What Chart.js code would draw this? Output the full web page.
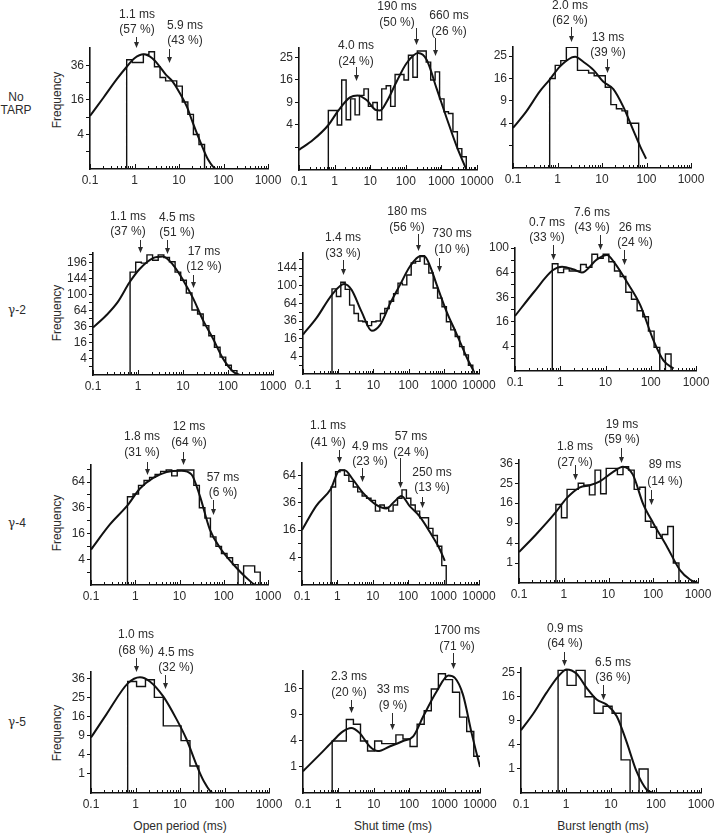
<!DOCTYPE html>
<html>
<head>
<meta charset="utf-8">
<title>Open period, shut time and burst length histograms</title>
<script src="https://cdn.jsdelivr.net/npm/chart.js@4.4.1/dist/chart.umd.min.js"></script>
<style>
  body { margin: 0; background: #fff; }
  #sheet { position: relative; width: 720px; height: 833px; overflow: hidden;
           font-family: "Liberation Sans", Arial, sans-serif; color: #2b2b2b; }
  #sheet canvas { position: absolute; }
  .lbl { position: absolute; font-size: 12px; line-height: 13px; text-align: center;
         white-space: nowrap; transform: translate(-50%, -50%); }
  .freq { transform: translate(-50%, -50%) rotate(-90deg); }
  .g { font-family: "DejaVu Serif", serif; font-size: 12px; }
</style>
</head>
<body>
<div id="sheet">
  <div class="lbl" style="left:16px;top:104px">No<br>TARP</div>
  <div class="lbl" style="left:17px;top:310px"><span class="g">γ</span>-2</div>
  <div class="lbl" style="left:17px;top:523px"><span class="g">γ</span>-4</div>
  <div class="lbl" style="left:17px;top:722px"><span class="g">γ</span>-5</div>
  <div class="lbl freq" style="left:57px;top:100px">Frequency</div>
  <div class="lbl freq" style="left:57px;top:313px">Frequency</div>
  <div class="lbl freq" style="left:57px;top:523px">Frequency</div>
  <div class="lbl freq" style="left:57px;top:733px">Frequency</div>
  <div class="lbl" style="left:180px;top:826px">Open period (ms)</div>
  <div class="lbl" style="left:393px;top:826px">Shut time (ms)</div>
  <div class="lbl" style="left:603px;top:826px">Burst length (ms)</div>
</div>
<script>
// bin edges (ms) of the log-binned histograms
const binEdges8 = [0.667, 0.889, 1.186, 1.581, 2.109, 2.812, 3.75, 5.0, 6.67, 8.89, 11.86, 15.81,
  21.09, 28.12, 37.5, 50, 66.7, 88.9, 118.6, 158.1, 210.9, 281.2, 375, 500, 667, 889, 1186,
  1581, 2109, 2812, 3750, 5000, 6667, 8889];
const binEdges5 = [0.667, 1.057, 1.675, 2.655, 4.21, 6.67, 10.57, 16.75, 26.55, 42.1, 66.7,
  105.7, 167.5, 265.5, 421, 667, 1057, 1675, 2655, 4210, 6670, 10570];

// x tick labels
const xDecades3 = [0.1, 1, 10, 100, 1000];
const xDecades4 = [0.1, 1, 10, 100, 1000, 10000];

// y ticks (square-root axis) and the ones that carry a label
const yTicks36 = [1, 4, 9, 16, 25, 36];
const yLabels36even = [4, 16, 36];
const yLabels36 = [1, 4, 9, 16, 25, 36];
const yTicks25 = [1, 4, 9, 16, 25];
const yLabels25 = [4, 9, 16, 25];
const yLabels25all = [1, 4, 9, 16, 25];
const yTicks16 = [1, 4, 9, 16];
const yTicks225 = [1, 4, 9, 16, 25, 36, 49, 64, 81, 100, 121, 144, 169, 196, 225];
const yLabels196 = [4, 16, 36, 64, 100, 144, 196];
const yTicks169 = [1, 4, 9, 16, 25, 36, 49, 64, 81, 100, 121, 144, 169];
const yLabels144 = [4, 16, 36, 64, 100, 144];
const yTicks100 = [1, 4, 9, 16, 25, 36, 49, 64, 81, 100];
const yLabels100 = [4, 16, 36, 64, 100];
const yTicks81 = [1, 4, 9, 16, 25, 36, 49, 64, 81];
const yTicks64 = [1, 4, 9, 16, 25, 36, 49, 64];
const yLabels64 = [4, 16, 36, 64];

// ---- No TARP ----
const noTarpOpenCounts = [40, 38, 38, 44, 46, 35, 28, 26, 26, 23, 15, 10, 4, 2];
const noTarpOpenFitX = [0.1, 0.2, 0.4, 0.67, 1.0, 1.6, 2.5, 3.5, 5, 7, 10, 15, 20, 30, 45, 70, 100];
const noTarpOpenFitY = [9.4, 17, 27, 35, 41, 44, 41, 36, 30, 26, 20, 13, 7.5, 2.5, 0.3, 0, 0];
const noTarpOpenTau = [1.1, 5.9];
const noTarpOpenNotes = [['1.1 ms', '(57 %)'], ['5.9 ms', '(43 %)']];

const noTarpShutCounts = [7, 7, 4, 16, 5, 10, 6, 11, 13, 8, 9, 5, 13, 14, 8, 18, 18, 16, 26, 17,
  28, 28, 23, 16, 19, 10, 6.7, 6.3, 2.9, 0.9, 0.35];
const noTarpShutFitX = [0.1, 0.25, 0.67, 1.3, 2.7, 4.4, 7.9, 14.5, 19, 29, 55, 105, 223, 385, 740, 1410, 2690, 5100];
const noTarpShutFitY = [0.8, 1.8, 4, 7.1, 10.4, 11, 9.7, 7.1, 7, 9.2, 15.4, 22.5, 27, 24, 13, 5.3, 1.1, 0];
const noTarpShutTau = [4.0, 190, 660];
const noTarpShutNotes = [['4.0 ms', '(24 %)'], ['190 ms', '(50 %)'], ['660 ms', '(26 %)']];

const noTarpBurstCounts = [16, 21, 23, 29, 29, 19, 19, 18, 17, 17, 13, 8, 7, 6.5, 4, 4];
const noTarpBurstFitX = [0.1, 0.2, 0.4, 0.66, 1.13, 2.1, 2.5, 3.8, 6.4, 10.6, 18, 30, 50, 72, 98];
const noTarpBurstFitY = [3.2, 6.4, 11.7, 15.5, 20.5, 24.4, 24.7, 22.5, 19.2, 14.9, 12.4, 7.5, 2.9, 0.94, 0.17];
const noTarpBurstTau = [2.0, 13];
const noTarpBurstNotes = [['2.0 ms', '(62 %)'], ['13 ms', '(39 %)']];

// ---- gamma-2 ----
const g2OpenCounts = [165, 198, 195, 225, 205, 225, 215, 200, 165, 140, 105, 66, 58, 38, 24, 12, 5, 1.5, 0.3];
const g2OpenFitX = [0.1, 0.2, 0.36, 0.65, 1.1, 2.16, 3.6, 6, 10, 16.7, 27.8, 46, 77, 129, 180];
const g2OpenFitY = [35, 56, 84, 134, 176, 213, 219, 189, 141, 92, 47, 21, 4.3, 0.2, 0];
const g2OpenTau = [1.1, 4.5, 17];
const g2OpenNotes = [['1.1 ms', '(37 %)'], ['4.5 ms', '(51 %)'], ['17 ms', '(12 %)']];

const g2ShutCounts = [93, 77, 108, 92, 61, 47, 36, 35, 30, 35, 36, 47, 55, 68, 83, 106, 102, 126,
  158, 163, 180, 155, 131, 95, 74, 58, 35, 25, 18, 9.6, 4.7, 1];
const g2ShutFitX = [0.1, 0.24, 0.67, 1.47, 2.4, 4.6, 9, 15.5, 30, 57, 110, 215, 280, 410, 630, 1200, 2350, 4600, 7100];
const g2ShutFitY = [20, 40, 81, 104, 91, 50, 24, 31, 64, 102, 149, 178, 178, 149, 102, 50, 20, 3.2, 0.1];
const g2ShutTau = [1.4, 180, 730];
const g2ShutNotes = [['1.4 ms', '(33 %)'], ['180 ms', '(56 %)'], ['730 ms', '(10 %)']];

const g2BurstCounts = [76, 64, 69, 66, 66, 75, 71, 90, 84, 90, 79, 66, 59, 41, 34, 24, 19.5, 10.5, 3.7, 0, 1.9];
const g2BurstFitX = [0.1, 0.26, 0.68, 1.1, 2.0, 3.0, 6.4, 10.7, 16, 30, 59, 116, 190, 320];
const g2BurstFitY = [20, 41, 67, 72, 68, 64, 82, 89, 77, 52, 28.5, 6, 0.75, 0.04];
const g2BurstTau = [0.7, 7.6, 26];
const g2BurstNotes = [['0.7 ms', '(33 %)'], ['7.6 ms', '(43 %)'], ['26 ms', '(24 %)']];

// ---- gamma-4 ----
const g4OpenCounts = [47, 50, 60, 66, 70, 74, 78, 80, 72, 80, 80, 80, 60, 36, 27, 14, 9, 6, 4.5, 2.5, 0, 2.2, 2.2, 1];
const g4OpenFitX = [0.1, 0.265, 0.69, 1.26, 2.5, 5.1, 11.1, 18.6, 28.8, 48.6, 82, 164, 329, 553, 1000];
const g4OpenFitY = [7.6, 22, 39, 56, 69, 77, 79, 74, 48, 18.6, 8.4, 2.6, 0.3, 0, 0];
const g4OpenTau = [1.8, 12, 57];
const g4OpenNotes = [['1.8 ms', '(31 %)'], ['12 ms', '(64 %)'], ['57 ms', '(6 %)']];

const g4ShutCounts = [51, 68, 70, 64, 57, 51, 46, 42, 40, 38, 29, 34, 32, 29, 34, 40, 48, 40, 34, 29, 24, 24, 17, 13, 8, 2];
const g4ShutFitX = [0.1, 0.25, 0.65, 1.16, 1.6, 2.75, 5.3, 12.6, 24, 41, 64, 110, 210, 405, 780, 1080];
const g4ShutFitY = [16, 33, 49, 70, 70, 59, 45, 34, 31, 37, 42, 33, 25, 15, 6.8, 3.1];
const g4ShutTau = [1.1, 4.9, 57, 250];
const g4ShutNotes = [['1.1 ms', '(41 %)'], ['4.9 ms', '(23 %)'], ['57 ms', '(24 %)'], ['250 ms', '(13 %)']];

const g4BurstCounts = [15.5, 10.7, 22, 22, 25, 24, 19.5, 32, 20, 33, 33, 29.5, 34, 32, 22, 23, 9.6, 7.8, 5, 5.9, 8, 1];
const g4BurstFitX = [0.1, 0.24, 0.65, 1.15, 2.3, 3.8, 6.4, 12.7, 21, 35, 60, 100, 200, 400, 660, 1000];
const g4BurstFitY = [2.4, 5.9, 12.4, 18, 23, 24, 26, 31, 34, 29.5, 15.5, 9, 3.4, 0.4, 0.03, 0];
const g4BurstTau = [1.8, 19, 89];
const g4BurstNotes = [['1.8 ms', '(27 %)'], ['19 ms', '(59 %)'], ['89 ms', '(14 %)']];

// ---- gamma-5 ----
const g5OpenCounts = [34, 31, 35, 25, 12.3, 12.3, 7.5, 2];
const g5OpenFitX = [0.1, 0.22, 0.68, 1.26, 2.1, 4.2, 8.4, 14, 24, 33.6, 56, 110];
const g5OpenFitY = [8.4, 16.8, 33, 36.6, 34, 25.5, 14.8, 7.9, 2, 0.43, 0, 0];
const g5OpenTau = [1.0, 4.5];
const g5OpenNotes = [['1.0 ms', '(68 %)'], ['4.5 ms', '(32 %)']];

const g5ShutCounts = [4, 4, 8, 7, 4, 2.6, 4, 3.6, 3.6, 5, 4.3, 3.2, 7, 10, 16, 21, 19, 15, 8.5, 5.6, 2];
const g5ShutFitX = [0.1, 0.3, 0.7, 1.35, 2.3, 4.0, 7.7, 13, 28, 67, 130, 250, 600, 1280, 1950, 3300, 5800, 10000];
const g5ShutFitY = [0.7, 2.2, 4, 5.6, 6.25, 5.3, 3.2, 2.6, 3.2, 4, 4.75, 8.7, 15.3, 20.4, 19.6, 14.3, 5.3, 1];
const g5ShutTau = [2.3, 33, 1700];
const g5ShutNotes = [['2.3 ms', '(20 %)'], ['33 ms', '(9 %)'], ['1700 ms', '(71 %)']];

const g5BurstCounts = [26, 20, 26, 16, 11, 13, 11, 1.9, 0, 1];
const g5BurstFitX = [0.1, 0.19, 0.37, 0.68, 1.03, 1.7, 2.9, 4.8, 8, 13.4, 22, 37, 62, 88];
const g5BurstFitY = [6.8, 11, 17.4, 23.6, 26.4, 24.7, 19, 15.1, 13.5, 10.2, 4.6, 0.8, 0.02, 0];
const g5BurstTau = [0.9, 6.5];
const g5BurstNotes = [['0.9 ms', '(64 %)'], ['6.5 ms', '(36 %)']];

// layout: plot box [left, top, right, bottom] in page px, note text centre x,
// line 1 y, line 2 y, arrow start y, arrow tip y (page px)
const panels = [
  { box: [90, 48, 268, 169], decades: xDecades3, yMax: 49, yTicks: yTicks36, yLabels: yLabels36even,
    edges: binEdges8, counts: noTarpOpenCounts, fitX: noTarpOpenFitX, fitY: noTarpOpenFitY,
    tau: noTarpOpenTau, notes: noTarpOpenNotes, notePos: [[137, 15, 30, 37, 48], [185, 26, 41, 49, 63]] },
  { box: [299, 48, 477, 170], decades: xDecades4, yMax: 29.4, yTicks: yTicks25, yLabels: yLabels25,
    edges: binEdges8, counts: noTarpShutCounts, fitX: noTarpShutFitX, fitY: noTarpShutFitY,
    tau: noTarpShutTau, notes: noTarpShutNotes,
    notePos: [[356, 46, 62, 67, 81], [397, 7, 23, 28, 45], [449, 16, 32, 38, 56]] },
  { box: [513, 47, 691, 168], decades: xDecades3, yMax: 29.2, yTicks: yTicks25, yLabels: yLabels25,
    edges: binEdges8, counts: noTarpBurstCounts, fitX: noTarpBurstFitX, fitY: noTarpBurstFitY,
    tau: noTarpBurstTau, notes: noTarpBurstNotes, notePos: [[570, 6, 21, 27, 42], [608, 38, 53, 59, 73]] },

  { box: [93, 253, 273, 375], decades: xDecades3, yMax: 232, yTicks: yTicks225, yLabels: yLabels196,
    edges: binEdges8, counts: g2OpenCounts, fitX: g2OpenFitX, fitY: g2OpenFitY,
    tau: g2OpenTau, notes: g2OpenNotes,
    notePos: [[128, 217, 232, 240, 253], [177, 218, 233, 240, 254], [204, 252, 267, 275, 288]] },
  { box: [303, 253, 479, 374], decades: xDecades4, yMax: 188, yTicks: yTicks169, yLabels: yLabels144,
    edges: binEdges8, counts: g2ShutCounts, fitX: g2ShutFitX, fitY: g2ShutFitY,
    tau: g2ShutTau, notes: g2ShutNotes,
    notePos: [[343, 238, 254, 260, 275], [407, 212, 228, 234, 251], [452, 234, 250, 258, 272]] },
  { box: [515, 248, 696, 371], decades: xDecades3, yMax: 100, yTicks: yTicks100, yLabels: yLabels100,
    edges: binEdges8, counts: g2BurstCounts, fitX: g2BurstFitX, fitY: g2BurstFitY,
    tau: g2BurstTau, notes: g2BurstNotes,
    notePos: [[547, 223, 238, 245, 260], [592, 213, 228, 235, 250], [635, 228, 243, 250, 265]] },

  { box: [91, 465, 268, 585], decades: xDecades3, yMax: 87, yTicks: yTicks81, yLabels: yLabels64,
    edges: binEdges8, counts: g4OpenCounts, fitX: g4OpenFitX, fitY: g4OpenFitY,
    tau: g4OpenTau, notes: g4OpenNotes,
    notePos: [[142, 437, 453, 462, 475], [189, 427, 443, 452, 465], [223, 478, 493, 500, 515]] },
  { box: [302, 463, 479, 585], decades: xDecades4, yMax: 79, yTicks: yTicks64, yLabels: yLabels64,
    edges: binEdges8, counts: g4ShutCounts, fitX: g4ShutFitX, fitY: g4ShutFitY,
    tau: g4ShutTau, notes: g4ShutNotes,
    notePos: [[328, 426, 443, 450, 463], [370, 447, 462, 468, 482], [411, 437, 453, 458, 488],
              [432, 473, 488, 497, 508]] },
  { box: [519, 460, 698, 583], decades: xDecades3, yMax: 38, yTicks: yTicks36, yLabels: yLabels36,
    edges: binEdges8, counts: g4BurstCounts, fitX: g4BurstFitX, fitY: g4BurstFitY,
    tau: g4BurstTau, notes: g4BurstNotes,
    notePos: [[575, 447, 463, 465, 480], [622, 425, 440, 448, 463], [665, 465, 482, 490, 505]] },

  { box: [91, 672, 269, 793], decades: xDecades3, yMax: 40, yTicks: yTicks36, yLabels: yLabels36,
    edges: binEdges5, counts: g5OpenCounts, fitX: g5OpenFitX, fitY: g5OpenFitY,
    tau: g5OpenTau, notes: g5OpenNotes, notePos: [[136, 635, 651, 658, 672], [176, 653, 668, 675, 689]] },
  { box: [303, 671, 480, 793], decades: xDecades4, yMax: 22, yTicks: yTicks16, yLabels: yTicks16,
    edges: binEdges5, counts: g5ShutCounts, fitX: g5ShutFitX, fitY: g5ShutFitY,
    tau: g5ShutTau, notes: g5ShutNotes,
    notePos: [[349, 677, 693, 700, 713], [393, 690, 706, 713, 730], [457, 631, 647, 653, 669]] },
  { box: [521, 668, 701, 793], decades: xDecades3, yMax: 27, yTicks: yTicks25, yLabels: yLabels25all,
    edges: binEdges5, counts: g5BurstCounts, fitX: g5BurstFitX, fitY: g5BurstFitY,
    tau: g5BurstTau, notes: g5BurstNotes, notePos: [[565, 629, 644, 652, 666], [613, 663, 678, 685, 700]] }
];

const INK = '#111';
const TEXT = '#2b2b2b';
const FONT = '"Liberation Sans", Arial, sans-serif';
const PAD_L = 60, PAD_T = 60, PAD_R = 30, PAD_B = 24;

Chart.defaults.font.family = FONT;
Chart.defaults.font.size = 12;
Chart.defaults.color = TEXT;

// square-root frequency axis
class SqrtScale extends Chart.LinearScale {
  getPixelForValue(value) {
    const lo = Math.sqrt(this.min), hi = Math.sqrt(this.max);
    return this.getPixelForDecimal((Math.sqrt(Math.max(value, 0)) - lo) / (hi - lo));
  }
  getValueForPixel(pixel) {
    const lo = Math.sqrt(this.min), hi = Math.sqrt(this.max);
    const s = lo + this.getDecimalForPixel(pixel) * (hi - lo);
    return s * s;
  }
}
SqrtScale.id = 'sqrt';
SqrtScale.defaults = Chart.LinearScale.defaults;
Chart.register(SqrtScale);

function logTicks(decades) {
  const out = [];
  decades.forEach((d, i) => {
    out.push(d);
    if (i < decades.length - 1) for (let m = 2; m <= 9; m++) out.push(m * d);
  });
  return out;
}

function stepPoints(edges, counts) {
  const pts = [{ x: edges[0], y: 0 }];
  counts.forEach((c, i) => pts.push({ x: edges[i], y: c }));
  pts.push({ x: edges[counts.length], y: 0 });
  return pts;
}

// x ticks point up into the plot
const innerTicks = {
  id: 'innerTicks',
  afterDraw(chart) {
    const { ctx, chartArea, scales: { x } } = chart;
    ctx.save();
    ctx.strokeStyle = INK;
    ctx.lineWidth = 1;
    x.ticks.forEach(t => {
      const px = Math.round(x.getPixelForValue(t.value)) + 0.5;
      const len = t.label ? 5 : 3;
      ctx.beginPath();
      ctx.moveTo(px, chartArea.bottom);
      ctx.lineTo(px, chartArea.bottom - len);
      ctx.stroke();
    });
    ctx.restore();
  }
};

function notesPlugin(p, left, top) {
  return {
    id: 'notes',
    afterDraw(chart) {
      const { ctx, scales: { x } } = chart;
      ctx.save();
      ctx.font = '12px ' + FONT;
      ctx.fillStyle = TEXT;
      ctx.strokeStyle = TEXT;
      ctx.textAlign = 'center';
      ctx.textBaseline = 'middle';
      p.tau.forEach((tau, i) => {
        const [cx, y1, y2, a1, a2] = p.notePos[i];
        ctx.fillText(p.notes[i][0], cx - left, y1 - top);
        ctx.fillText(p.notes[i][1], cx - left, y2 - top);
        const ax = Math.round(x.getPixelForValue(tau)) + 0.5;
        ctx.lineWidth = 1;
        ctx.beginPath();
        ctx.moveTo(ax, a1 - top);
        ctx.lineTo(ax, a2 - top - 4);
        ctx.stroke();
        ctx.beginPath();
        ctx.moveTo(ax, a2 - top);
        ctx.lineTo(ax - 2.5, a2 - top - 6);
        ctx.lineTo(ax + 2.5, a2 - top - 6);
        ctx.closePath();
        ctx.fill();
      });
      ctx.restore();
    }
  };
}

const sheet = document.getElementById('sheet');
panels.forEach(p => {
  const [L, T, R, B] = p.box;
  const left = L - PAD_L, top = T - PAD_T;
  const cv = document.createElement('canvas');
  cv.width = R - L + PAD_L + PAD_R;
  cv.height = B - T + PAD_T + PAD_B;
  cv.style.left = left + 'px';
  cv.style.top = top + 'px';
  sheet.appendChild(cv);

  new Chart(cv, {
    type: 'line',
    data: {
      datasets: [
        {
          data: p.fitX.map((v, i) => ({ x: v, y: p.fitY[i] })),
          borderColor: INK, borderWidth: 2, pointRadius: 0, fill: false,
          cubicInterpolationMode: 'monotone'
        },
        {
          data: stepPoints(p.edges, p.counts),
          borderColor: INK, borderWidth: 1.4, pointRadius: 0, fill: false,
          stepped: true
        }
      ]
    },
    options: {
      responsive: false,
      animation: false,
      events: [],
      layout: { padding: { left: 0, top: PAD_T, right: PAD_R, bottom: 0 } },
      plugins: { legend: { display: false }, tooltip: { enabled: false } },
      scales: {
        x: {
          type: 'logarithmic', min: p.decades[0], max: p.decades[p.decades.length - 1],
          afterBuildTicks: s => { s.ticks = logTicks(p.decades).map(v => ({ value: v })); },
          afterFit: s => { s.height = PAD_B; },
          grid: { display: false, drawTicks: false },
          border: { display: true, color: INK, width: 1.6 },
          ticks: {
            autoSkip: false, maxRotation: 0, minRotation: 0, padding: 4, color: TEXT,
            callback: v => p.decades.includes(v) ? String(v) : ''
          }
        },
        y: {
          type: 'sqrt', min: 0, max: p.yMax,
          afterBuildTicks: s => { s.ticks = p.yTicks.map(v => ({ value: v })); },
          afterFit: s => { s.width = PAD_L; },
          grid: { drawOnChartArea: false, drawTicks: true, tickLength: 4, color: INK, lineWidth: 1 },
          border: { display: true, color: INK, width: 1.6 },
          ticks: {
            autoSkip: false, padding: 2, color: TEXT,
            callback: v => p.yLabels.includes(v) ? String(v) : ''
          }
        }
      }
    },
    plugins: [innerTicks, notesPlugin(p, left, top)]
  });
});
</script>
</body>
</html>
